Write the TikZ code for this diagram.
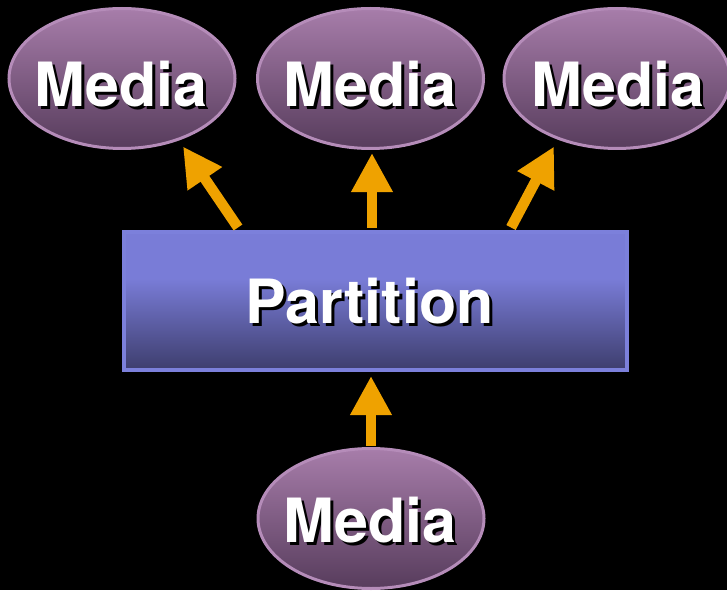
\documentclass[tikz,border=0pt]{standalone}
\usepackage{fontspec}
\setmainfont{TeX Gyre Heros}
\usetikzlibrary{shapes.geometric,arrows.meta,calc}

\definecolor{mediatop}{HTML}{A77DAA}
\definecolor{mediabot}{HTML}{573C5C}
\definecolor{mediarim}{HTML}{B58CB9}
\definecolor{parttop}{HTML}{797CD7}
\definecolor{partbot}{HTML}{3E3E6E}
\definecolor{partrim}{HTML}{7C80DB}
\definecolor{flowcol}{HTML}{EFA200}

% vertical shading for the partition box: flat light top third, darkening below
\pgfdeclareverticalshading{partshade}{100bp}{%
  color(0bp)=(partbot); color(25bp)=(partbot);
  color(58bp)=(parttop); color(75bp)=(parttop); color(100bp)=(parttop)}

% white label with a black drop shadow
\newcommand\shadowed[1]{\makebox[0pt][l]{\kern3pt\raisebox{-3pt}{\color{black}#1}}#1}

\begin{document}
\begin{tikzpicture}[x=1pt,y=1pt,
  media/.style={ellipse, minimum width=226pt, minimum height=140pt, inner sep=0pt,
    draw=mediarim, line width=3pt, top color=mediatop, bottom color=mediabot},
  part/.style={rectangle, minimum width=503pt, minimum height=138pt, inner sep=0pt,
    draw=partrim, line width=4pt, shading=partshade},
  lbl/.style={text=white, font=\bfseries\fontsize{61}{61}\selectfont,
    inner sep=0pt, anchor=base},
  flow/.style={draw=flowcol, line width=10.5pt,
    -{Triangle[length=39pt,width=39pt,fill=flowcol]}}]

  \fill[black] (0,0) rectangle (727,590);
  \useasboundingbox (0,0) rectangle (727,590);

  % media ellipses
  \node[media] (m1) at (122,511.5) {};
  \node[media] (m2) at (370.5,511.5) {};
  \node[media] (m3) at (617,511.5) {};
  \node[media] (m4) at (371,71.5) {};

  % partition box
  \node[part] (box) at (375.5,289.5) {};

  % labels
  \node[lbl] (l1) at (121,483) {\shadowed{Media}};
  \node[lbl] (l2) at (370,483) {\shadowed{Media}};
  \node[lbl] (l3) at (618,483) {\shadowed{Media}};
  \node[lbl] (l4) at (370,48) {\shadowed{Media}};
  \node[lbl] (lp) at (369.5,267) {\shadowed{Partition}};

  % arrows
  \draw[flow] ($(box.north)+(-137.5,2)$) -- ($(m1.center)+(61,-68)$);
  \draw[flow] ($(box.north)+(-3.5,2)$) -- ($(m2.south)+(1.5,-3)$);
  \draw[flow] ($(box.north)+(135.5,2)$) -- ($(m3.center)+(-63,-68)$);
  \draw[flow] ($(m4.north)+(0,1.5)$) -- ($(box.south)+(-4.5,-4.5)$);
\end{tikzpicture}
\end{document}
